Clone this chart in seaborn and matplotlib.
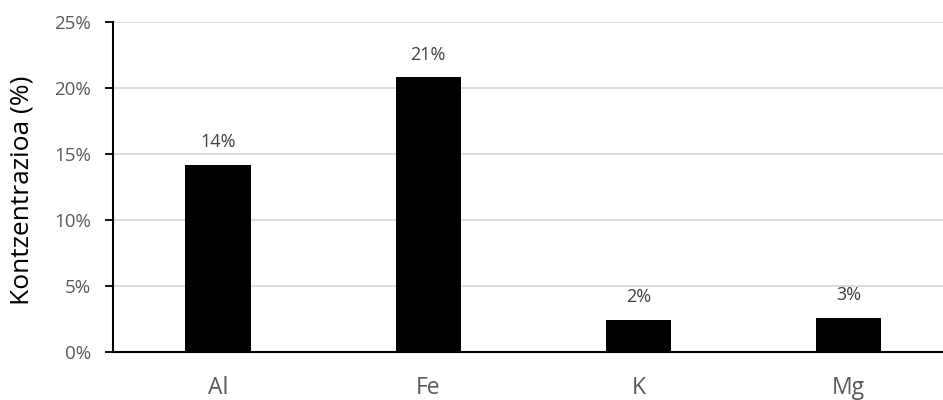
import matplotlib
matplotlib.use("Agg")
import matplotlib.pyplot as plt
import seaborn as sns
import pandas as pd
from matplotlib.ticker import PercentFormatter, MultipleLocator

categories = ["Al", "Fe", "K", "Mg"]
values = [14.2, 20.8, 2.45, 2.55]
value_labels = ["14%", "21%", "2%", "3%"]
y_label = "Kontzentrazioa (%)"

sns.set_theme(style="white")
plt.rcParams['font.family'] = ['Open Sans', 'DejaVu Sans']

df = pd.DataFrame({"cat": categories, "val": values})

fig = plt.figure(figsize=(9.43, 4.0), dpi=100)
ax = fig.add_axes([0.1198, 0.12, 0.8802, 0.825])

sns.barplot(data=df, x="cat", y="val", color="black", width=0.31,
            saturation=1, ax=ax, edgecolor="none")

ax.set_xlim(-0.5, 3.45)
ax.set_ylim(0, 25)
ax.yaxis.set_major_locator(MultipleLocator(5))
ax.yaxis.set_major_formatter(PercentFormatter(decimals=0))
ax.grid(axis="y", color="#d9d9d9", linewidth=1.3)
ax.set_axisbelow(True)

for s in ["top", "right"]:
    ax.spines[s].set_visible(False)
for s in ["left", "bottom"]:
    ax.spines[s].set_color("black")
    ax.spines[s].set_linewidth(1.5)

ax.tick_params(axis="y", which="major", left=True, length=6, width=1.3,
               color="black", labelsize=13.5, labelcolor="#595959", pad=10)
ax.tick_params(axis="x", bottom=False, labelsize=16.5, labelcolor="#595959", pad=11)

ax.set_xlabel("")
ax.set_ylabel(y_label, fontsize=19, color="black", va="center")
ax.yaxis.set_label_coords(-0.1096, 0.49)

for i, (v, lab) in enumerate(zip(values, value_labels)):
    ax.annotate(lab, (i, v), xytext=(0, 10), textcoords="offset points",
                ha="center", va="bottom", fontsize=13, color="#404040")

fig.savefig("out.png", dpi=100)
